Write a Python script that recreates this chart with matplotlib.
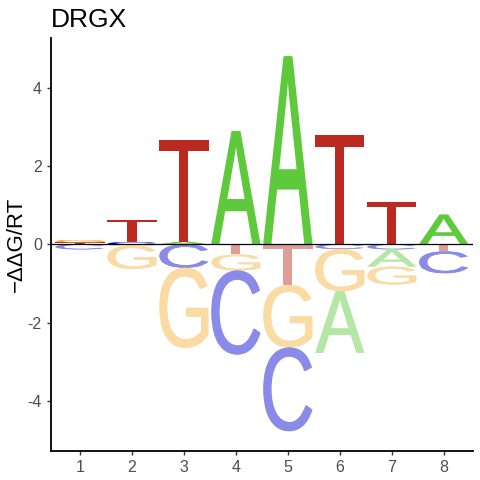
import matplotlib
matplotlib.use('Agg')
import matplotlib.pyplot as plt
from matplotlib.textpath import TextPath
from matplotlib.font_manager import FontProperties
from matplotlib.patches import PathPatch
from matplotlib.transforms import Affine2D
from matplotlib.colors import to_rgb

plt.rcParams['font.family'] = ['Liberation Sans', 'DejaVu Sans']

# energy logo values (-ddG/RT) per position
positions = [1, 2, 3, 4, 5, 6, 7, 8]
A_vals = [0.00, -0.03, 0.07, 2.90, 4.81, -1.58, -0.44, 0.76]
C_vals = [-0.13, 0.05, -0.60, -2.15, -2.14, -0.12, -0.13, -0.56]
G_vals = [0.06, -0.60, -2.05, -0.41, -1.60, -1.08, -0.46, 0.00]
T_vals = [0.05, 0.58, 2.61, -0.26, -1.04, 2.80, 1.08, -0.18]

letters = ['A', 'C', 'G', 'T']
values = {'A': A_vals, 'C': C_vals, 'G': G_vals, 'T': T_vals}
colors = {'A': '#5DC93B', 'C': '#0000CC', 'G': '#F5B03A', 'T': '#BA2A20'}

fp = FontProperties(family='Liberation Sans')


def faded(c, a=0.46):
    """ Colour mixed with white, used for the negative letters """
    r, g, b = to_rgb(c)
    return (1 - a + a * r, 1 - a + a * g, 1 - a + a * b)


def draw_letter(ax, ch, x, y0, h, color, width=0.95, dx=0.012):
    """ Squeeze a glyph into the box [x-w/2, x+w/2] x [y0, y0+h];
    drawn twice, shifted sideways, so the stems come out a bit heavier """
    tp = TextPath((0, 0), ch, size=1, prop=fp)
    bb = tp.get_extents()
    w = width - 2 * dx
    for sx in (-dx, dx):
        tr = Affine2D().translate(-bb.x0, -bb.y0) \
            .scale(w / bb.width, h / bb.height) \
            .translate(x - w / 2 + sx, y0)
        ax.add_patch(PathPatch(tr.transform_path(tp), fc=color, ec='none',
                               lw=0))


fig = plt.figure(figsize=(4.8, 4.8), dpi=100)
ax = fig.add_axes([0.106, 0.061, 0.879, 0.860])

for i, pos in enumerate(positions):
    col = [(l, values[l][i]) for l in letters if values[l][i] != 0]
    pos_part = sorted([c for c in col if c[1] > 0], key=lambda c: c[1])
    neg_part = sorted([c for c in col if c[1] < 0], key=lambda c: -c[1])
    cur = 0.0
    for l, v in pos_part:
        draw_letter(ax, l, pos, cur, v, colors[l])
        cur += v
    cur = 0.0
    for l, v in neg_part:
        draw_letter(ax, l, pos, cur + v, -v, faded(colors[l]))
        cur += v

ax.axhline(0, color='black', lw=0.9)
ax.set_xlim(0.44, 8.56)
ax.set_ylim(-5.28, 5.28)
ax.set_xticks(positions)
ax.set_yticks([-4, -2, 0, 2, 4])
ax.set_yticklabels(['-4', '-2', '0', '2', '4'])
for s in ['top', 'right']:
    ax.spines[s].set_visible(False)
for s in ['left', 'bottom']:
    ax.spines[s].set_linewidth(1.3)
ax.tick_params(labelsize=11.5, labelcolor='#4D4D4D', length=3, width=1,
               color='#333333')

fig.text(0.106, 0.944, 'DRGX', fontsize=19, va='baseline', ha='left')
fig.text(0.034, 0.49, '\u2212\u0394\u0394G/RT', fontsize=16, rotation=90,
         ha='center', va='center')

fig.savefig('out.png', dpi=100)
